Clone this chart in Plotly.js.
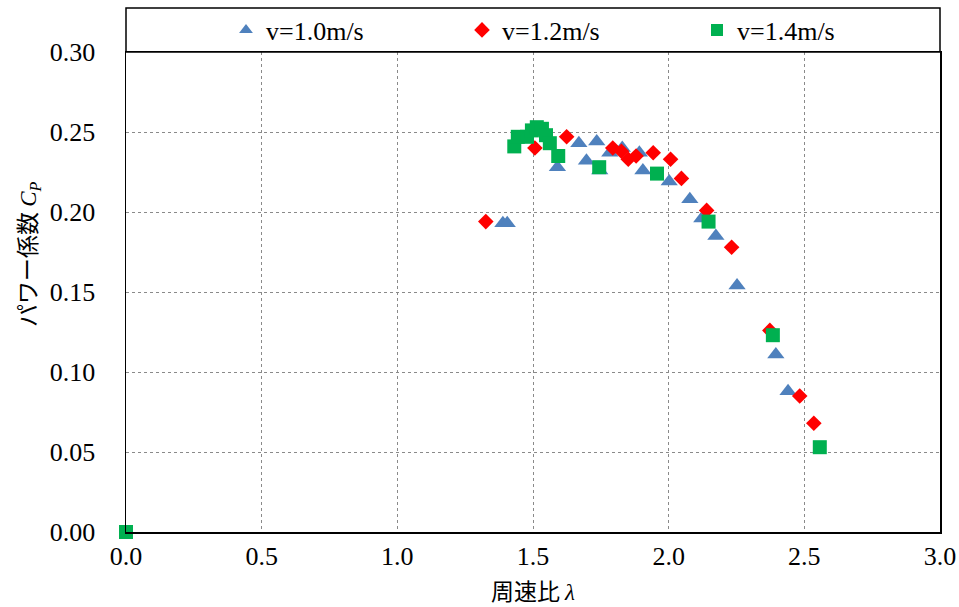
<!DOCTYPE html>
<html>
<head>
<meta charset="utf-8">
<script src="https://cdn.plot.ly/plotly-3.0.1.min.js"></script>
<style>html,body{margin:0;padding:0;background:#fff}#chart{width:959px;height:607px}</style>
</head>
<body>
<div id="chart"></div>
<script>
// v = 1.0 m/s
const lambda10 = [1.389, 1.405, 1.590, 1.669, 1.735, 1.697, 1.746, 1.783, 1.829, 1.892, 1.905, 2.002, 2.078, 2.122, 2.174, 2.252, 2.395, 2.440];
const cp10     = [0.193, 0.193, 0.228, 0.243, 0.244, 0.232, 0.226, 0.237, 0.240, 0.237, 0.226, 0.219, 0.208, 0.196, 0.185, 0.154, 0.111, 0.088];
// v = 1.2 m/s
const lambda12 = [1.326, 1.507, 1.624, 1.794, 1.826, 1.851, 1.880, 1.943, 2.007, 2.047, 2.140, 2.232, 2.373, 2.483, 2.535];
const cp12     = [0.194, 0.240, 0.247, 0.240, 0.238, 0.233, 0.235, 0.237, 0.233, 0.221, 0.201, 0.178, 0.126, 0.085, 0.068];
// v = 1.4 m/s
const lambda14 = [0.0, 1.431, 1.444, 1.478, 1.496, 1.514, 1.533, 1.548, 1.562, 1.593, 1.744, 1.957, 2.147, 2.384, 2.557];
const cp14     = [0.0, 0.241, 0.247, 0.247, 0.251, 0.253, 0.252, 0.248, 0.243, 0.235, 0.228, 0.224, 0.194, 0.123, 0.053];

const seriesNames = ['v=1.0m/s', 'v=1.2m/s', 'v=1.4m/s'];
const xTicks = [0, 0.5, 1.0, 1.5, 2.0, 2.5, 3.0];
const yTicks = [0, 0.05, 0.10, 0.15, 0.20, 0.25, 0.30];
const xTitle = '周速比 <i><span style="font-family:Liberation Serif">λ</span></i>';
const yTitle = 'パワー係数 <span style="font-family:Liberation Serif"><i>C</i><sub><i>P</i></sub></span>';

const serif = 'Liberation Serif';
const jp = 'Noto Sans CJK JP';

const traces = [
  {x: lambda10, y: cp10, name: seriesNames[0], legend: 'legend', type: 'scatter', mode: 'markers', cliponaxis: false,
   marker: {symbol: 'triangle-up', size: 15, color: '#4F81BD', line: {width: 0}}},
  {x: lambda12, y: cp12, name: seriesNames[1], legend: 'legend2', type: 'scatter', mode: 'markers', cliponaxis: false,
   marker: {symbol: 'diamond', size: 12, color: '#FF0000', line: {width: 0}}},
  {x: lambda14, y: cp14, name: seriesNames[2], legend: 'legend3', type: 'scatter', mode: 'markers', cliponaxis: false,
   marker: {symbol: 'square', size: 14, color: '#00B050', line: {width: 0}}}
];

function leg(xpx) {
  return {
    orientation: 'h', xref: 'container', x: xpx / 959, xanchor: 'left',
    yref: 'container', y: 1 - 30 / 607, yanchor: 'middle',
    font: {family: serif, size: 26, color: '#000'},
    bgcolor: 'rgba(0,0,0,0)', borderwidth: 0, itemsizing: 'constant'
  };
}

const layout = {
  width: 959, height: 607,
  margin: {l: 126, r: 19, t: 52, b: 75, autoexpand: false},
  paper_bgcolor: '#fff', plot_bgcolor: '#fff',
  showlegend: true,
  legend: leg(226),
  legend2: leg(462),
  legend3: leg(697),
  xaxis: {
    range: [0, 3], tickvals: xTicks, tickformat: '.1f',
    showgrid: true, gridcolor: '#8a8a8a', griddash: 'dot', gridwidth: 1,
    showline: true, mirror: true, linecolor: '#000', linewidth: 1.5,
    zeroline: false, ticks: '',
    tickfont: {family: serif, size: 26, color: '#000'},
    title: {text: xTitle, font: {family: jp, size: 23, color: '#000'}, standoff: 14}
  },
  yaxis: {
    range: [0, 0.3], tickvals: yTicks, tickformat: '.2f',
    showgrid: true, gridcolor: '#8a8a8a', griddash: 'dot', gridwidth: 1,
    showline: true, mirror: true, linecolor: '#000', linewidth: 1.5,
    zeroline: false, ticks: '', ticklabelstandoff: 24,
    tickfont: {family: serif, size: 26, color: '#000'}
  },
  annotations: [
    {text: yTitle, xref: 'paper', yref: 'paper', x: (27 - 126) / 814, y: (532 - 254) / 480,
     xanchor: 'center', yanchor: 'middle', textangle: -90, showarrow: false,
     font: {family: jp, size: 23, color: '#000'}}
  ],
  shapes: [
    {type: 'rect', xref: 'paper', yref: 'paper', x0: 0, x1: 1, y0: 1, y1: 1.0917,
     line: {color: '#000', width: 1.5}, fillcolor: 'rgba(0,0,0,0)'}
  ]
};

Plotly.newPlot('chart', traces, layout, {displayModeBar: false, staticPlot: true});
</script>
</body>
</html>
